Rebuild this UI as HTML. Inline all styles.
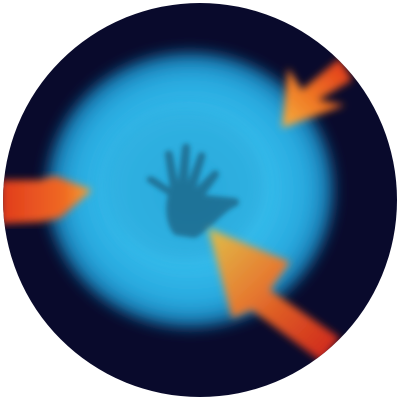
<!DOCTYPE html>
<html><head><meta charset="utf-8"><style>
html,body{margin:0;padding:0;background:#fff;width:400px;height:400px;overflow:hidden}
</style></head><body>
<svg width="400" height="400" viewBox="0 0 400 400">
<defs>
<radialGradient id="glow" cx="0.5" cy="0.5" r="0.5">
<stop offset="0" stop-color="#2aaee0"/>
<stop offset="0.5" stop-color="#35bdec"/>
<stop offset="0.8" stop-color="#28a8de"/>
<stop offset="0.95" stop-color="#1570a8"/>
<stop offset="1" stop-color="#0a0c2e" stop-opacity="0"/>
</radialGradient>
<filter id="b8"><feGaussianBlur stdDeviation="7"/></filter>
<filter id="b4"><feGaussianBlur stdDeviation="4"/></filter>
<filter id="b3"><feGaussianBlur stdDeviation="2.5"/></filter>
<linearGradient id="ar1" x1="1" y1="0" x2="0" y2="1"><stop offset="0" stop-color="#e0301a"/><stop offset="0.6" stop-color="#f07a25"/><stop offset="1" stop-color="#f5b040"/></linearGradient>
<linearGradient id="ar2" x1="0" y1="0" x2="1" y2="0"><stop offset="0" stop-color="#e03a1e"/><stop offset="0.7" stop-color="#f06a22"/><stop offset="1" stop-color="#f5a535"/></linearGradient>
<linearGradient id="ar3" x1="0" y1="0" x2="1" y2="1"><stop offset="0" stop-color="#e8c040"/><stop offset="0.4" stop-color="#f07a28"/><stop offset="1" stop-color="#d8201a"/></linearGradient>
<clipPath id="cc"><circle cx="200" cy="200" r="197"/></clipPath>
</defs>
<circle cx="200" cy="200" r="197" fill="#090a2c"/>
<g clip-path="url(#cc)">
<ellipse cx="190" cy="190" rx="148" ry="142" fill="url(#glow)" filter="url(#b8)"/>
<ellipse cx="185" cy="185" rx="80" ry="75" fill="#2aa6d8" opacity="0.5" filter="url(#b8)"/>
<g fill="#1a6688" opacity="0.8" filter="url(#b3)">
<path d="M175 235 C165 225 165 205 168 195 L148 182 C144 178 150 174 155 178 L170 188 L165 155 C164 150 172 148 173 155 L178 182 L182 148 C183 142 190 142 190 148 L188 182 L198 155 C200 150 207 152 205 158 L196 188 L212 172 C216 168 221 172 218 177 L205 195 L235 198 C241 199 240 206 234 207 C220 215 210 230 195 238 Z"/>
</g>
<g filter="url(#b4)">
<polygon points="340,58 352,80 318,100 345,105 282,128 288,68 302,90" fill="url(#ar1)"/>
</g>
<g filter="url(#b4)">
<polygon points="0,180 40,180 55,176 92,190 60,218 40,222 0,224" fill="url(#ar2)"/>
</g>
<g filter="url(#b4)">
<polygon points="208,228 290,262 270,290 340,338 322,362 252,310 232,318" fill="url(#ar3)" opacity="0.95"/>
</g>
</g>
</svg>
</body></html>
